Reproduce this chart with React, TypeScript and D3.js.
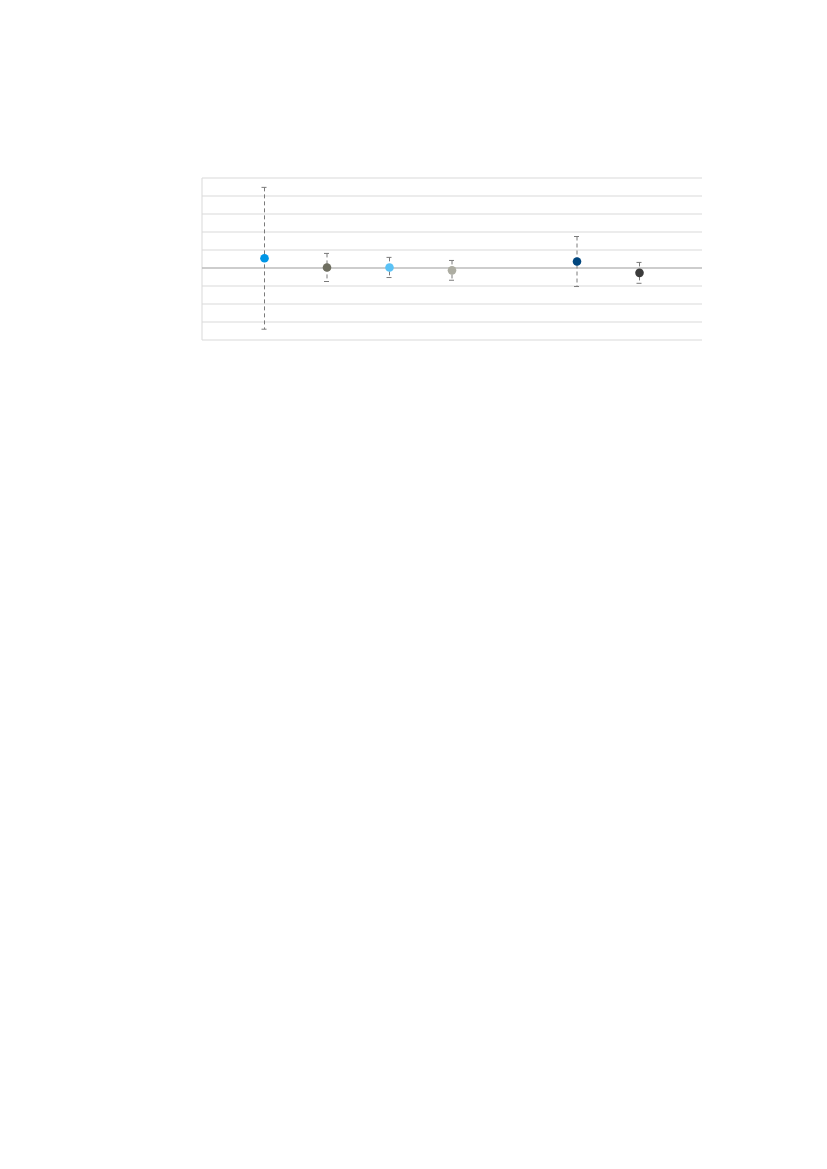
import React from 'react';
import * as d3 from 'd3';

// category slots on the x axis (slot 5 is left empty in the original)
const categories = ['A', 'B', 'C', 'D', 'E', 'F'];
const slots = [1, 2, 3, 4, 6, 7];
const values = [0.54, 0.03, 0.03, -0.13, 0.36, -0.27];
const errors = [3.94, 0.78, 0.56, 0.55, 1.39, 0.58];
const colors = ['#0096e6', '#6e6e60', '#5ac2f6', '#adada2', '#00467e', '#3b3b3b'];
const yTicks = [-4, -3, -2, -1, 0, 1, 2, 3, 4, 5];

const W = 827;
const H = 1169;
const left = 202;
const right = 702;
const top = 178;
const bottom = 340;

const App: React.FC = () => {
  const x = d3.scaleLinear().domain([0, 8]).range([left, right]);
  const y = d3.scaleLinear().domain([-4, 5]).range([bottom, top]);

  return (
    <svg
      width={W}
      height={H}
      style={{ position: 'absolute', left: 0, top: 0, background: '#fff' }}
    >
      {/* gridlines */}
      {yTicks.filter(t => t !== 0).map(t => (
        <line
          key={t}
          x1={left}
          x2={right}
          y1={y(t)}
          y2={y(t)}
          stroke="#d9d9d9"
          strokeWidth={1}
        />
      ))}
      {/* left axis line */}
      <line x1={left} x2={left} y1={top} y2={bottom} stroke="#d9d9d9" strokeWidth={1} />
      {/* zero line */}
      <line x1={left} x2={right} y1={y(0)} y2={y(0)} stroke="#bcbcbc" strokeWidth={1.5} />

      {/* error bars */}
      {categories.map((c, i) => {
        const cx = x(slots[i]);
        const y1 = y(values[i] + errors[i]);
        const y2 = y(values[i] - errors[i]);
        return (
          <g key={`e-${c}`} stroke="#7a7a7a" strokeWidth={1} fill="none">
            <line x1={cx} x2={cx} y1={y1} y2={y2} strokeDasharray="4,3" />
            <line x1={cx - 3} x2={cx + 2} y1={y1} y2={y1} />
            <line x1={cx - 3} x2={cx + 2} y1={y2} y2={y2} />
          </g>
        );
      })}

      {/* points */}
      {categories.map((c, i) => (
        <circle
          key={`p-${c}`}
          cx={x(slots[i])}
          cy={y(values[i])}
          r={4.3}
          fill={colors[i]}
        />
      ))}
    </svg>
  );
};

export default App;
